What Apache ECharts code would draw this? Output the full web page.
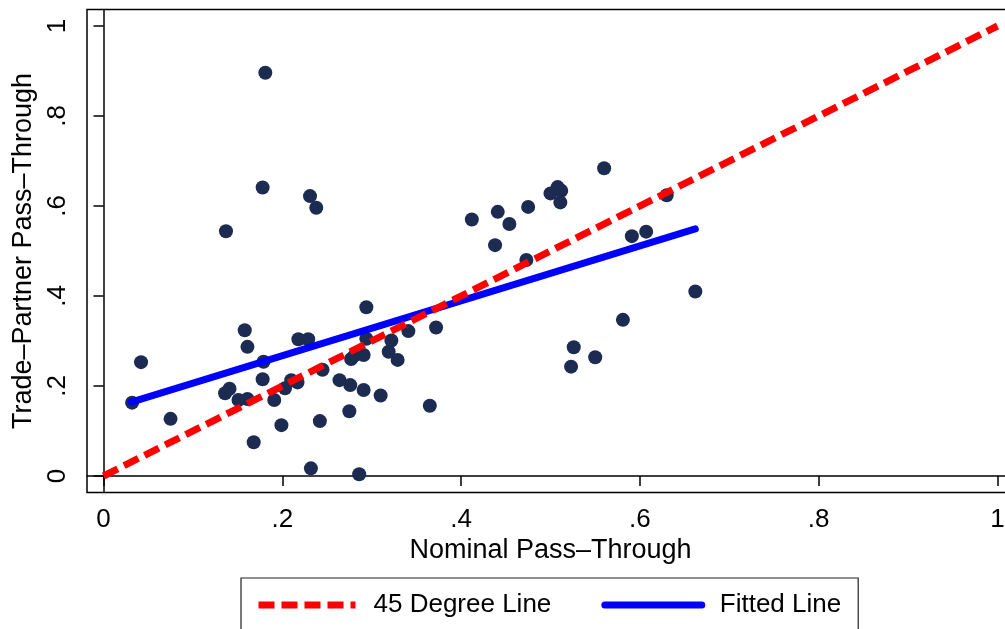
<!DOCTYPE html>
<html><head><meta charset="utf-8">
<script src="https://cdn.jsdelivr.net/npm/echarts@6/dist/echarts.min.js"></script>
<style>html,body{margin:0;padding:0;background:#fff}#c{width:1005px;height:629px}</style>
</head><body><div id="c"></div>
<script>
// Data
const nominalPT = [0.181,0.178,0.231,0.238,0.137,0.032,0.042,0.075,0.158,0.161,0.179,0.178,0.136,0.141,0.151,0.161,0.191,0.168,0.199,0.203,0.210,0.217,0.218,0.229,0.242,0.232,0.245,0.264,0.294,0.294,0.322,0.341,0.372,0.319,0.329,0.277,0.281,0.291,0.276,0.291,0.310,0.275,0.365,0.286,0.412,0.441,0.454,0.475,0.438,0.473,0.500,0.508,0.512,0.511,0.560,0.526,0.523,0.550,0.581,0.591,0.607,0.630,0.662];
const partnerPT = [0.896,0.641,0.622,0.596,0.544,0.163,0.253,0.127,0.324,0.287,0.254,0.215,0.184,0.194,0.169,0.171,0.169,0.075,0.113,0.195,0.213,0.208,0.304,0.304,0.122,0.017,0.236,0.213,0.375,0.305,0.301,0.322,0.330,0.276,0.258,0.260,0.268,0.269,0.202,0.191,0.179,0.144,0.156,0.004,0.570,0.587,0.560,0.598,0.513,0.480,0.628,0.642,0.634,0.608,0.684,0.286,0.243,0.264,0.347,0.533,0.543,0.624,0.410];
const fitX = [0.031, 0.662];
const fitY = [0.164, 0.549];
const diagX = [0, 1];
const diagY = [0, 1];
const tickValues = [0, 0.2, 0.4, 0.6, 0.8, 1];
const tickLabels = ['0', '.2', '.4', '.6', '.8', '1'];

const zip = (a, b) => a.map((v, i) => [v, b[i]]);
const FONT = 'Liberation Sans, Arial, Helvetica, sans-serif';
const fmt = v => { const i = tickValues.findIndex(t => Math.abs(t - v) < 1e-9); return i >= 0 ? tickLabels[i] : ''; };

const chart = echarts.init(document.getElementById('c'), null, {renderer: 'canvas'});
const axisCommon = {
  type: 'value',
  nameLocation: 'middle',
  nameTextStyle: {fontFamily: FONT, fontSize: 27, color: '#000'},
  axisLine: {show: true, lineStyle: {color: '#000', width: 1.5}},
  axisTick: {show: true, length: 10, lineStyle: {color: '#000', width: 1.5}, customValues: tickValues},
  axisLabel: {fontFamily: FONT, fontSize: 26, color: '#000', customValues: tickValues, formatter: fmt},
  splitLine: {show: false}
};
chart.setOption({
  backgroundColor: '#fff',
  animation: false,
  grid: {left: 87, top: 9.5, width: 927, height: 483, show: true, borderColor: '#000', borderWidth: 1.5,
         containLabel: false, outerBoundsMode: 'none'},
  xAxis: Object.assign({}, axisCommon, {
    name: 'Nominal Pass–Through', nameGap: 42,
    min: -0.018456, max: 1.018456,
    axisLabel: Object.assign({}, axisCommon.axisLabel, {margin: 14})
  }),
  yAxis: Object.assign({}, axisCommon, {
    name: 'Trade–Partner Pass–Through', nameGap: 47,
    min: -0.036667, max: 1.036667,
    axisLabel: Object.assign({}, axisCommon.axisLabel, {rotate: 90, margin: 16})
  }),
  legend: {
    data: ['45 Degree Line', 'Fitted Line'],
    left: 241, top: 578,
    padding: [14, 17, 14, 14],
    itemWidth: 97, itemHeight: 26, itemGap: 50,
    borderColor: '#222', borderWidth: 1.2,
    textStyle: {fontFamily: FONT, fontSize: 26, color: '#000', padding: [0, 0, 0, 13]},
    itemStyle: {opacity: 0, borderWidth: 0},
    lineStyle: {width: 7}
  },
  series: [
    {type: 'scatter', name: 'data', data: zip(nominalPT, partnerPT), symbol: 'circle', symbolSize: 14,
     itemStyle: {color: '#1c2b52', opacity: 1}, z: 2},
    {type: 'line', name: 'Fitted Line', data: zip(fitX, fitY), symbol: 'none', showSymbol: false,
     lineStyle: {color: '#0000ff', width: 7, cap: 'round'}, itemStyle: {color: '#0000ff'}, z: 3},
    {type: 'line', name: '45 Degree Line', data: zip(diagX, diagY), symbol: 'none', showSymbol: false,
     lineStyle: {color: '#ff0000', width: 7, type: [16, 7], cap: 'butt'}, itemStyle: {color: '#ff0000'}, z: 4}
  ]
});
</script></body></html>
